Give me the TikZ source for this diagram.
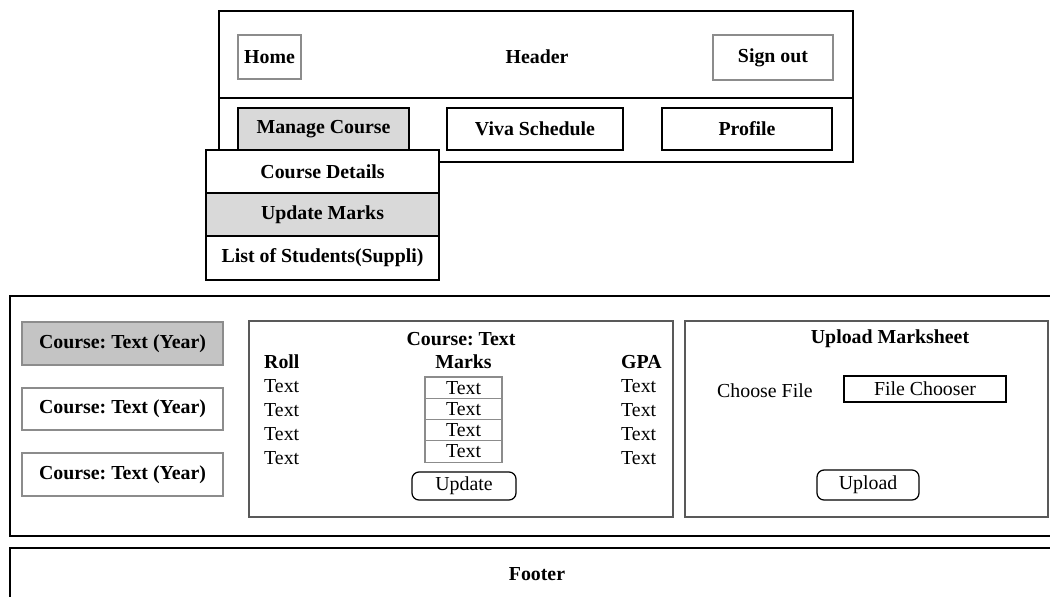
\documentclass[tikz,border=0pt]{standalone}
\usepackage{fontspec}
\setmainfont{Liberation Serif}
\usepackage{xcolor}
\usetikzlibrary{positioning}
\definecolor{wfline}{HTML}{000000}
\definecolor{wfthin}{HTML}{8c8c8c}
\definecolor{wfsel}{HTML}{d9d9d9}
\definecolor{wfsel2}{HTML}{c4c4c4}
\frenchspacing
\begin{document}
\begin{tikzpicture}[x=0.02cm,y=-0.02cm,font=\fontsize{11.3}{13}\selectfont,
 sz/.style 2 args={minimum width=#1*0.02cm,minimum height=#2*0.02cm,inner sep=0pt,outer sep=0pt},
 bx/.style={draw=wfline,line width=1.2pt,font=\fontsize{11.3}{13}\selectfont\bfseries},
 tb/.style={draw=wfthin,line width=0.6pt,font=\fontsize{11.3}{13}\selectfont\bfseries},
 pn/.style={draw=black!65,line width=0.9pt},
 btn/.style={draw=black,line width=0.7pt,rounded corners=4pt},
 ttl/.style={font=\fontsize{11.3}{13}\selectfont\bfseries}]
\clip (0,0) rectangle (1050,596);
\fill[white] (0,0) rectangle (1050,596);

\node[bx,sz={634}{151},anchor=north west](hdr) at (219,11) {};
\draw[line width=1.2pt](hdr.west|-0,98)--(hdr.east|-0,98);
\node[ttl](htitle) at (537,57) {Header};
\node[tb,sz={63}{44}](home) at (269.5,57) {Home};
\node[tb,sz={120}{45}](signout) at (773,57.5) {Sign out};
\node[bx,sz={171}{42},fill=wfsel](manage) at (323.5,129) {Manage Course};
\node[bx,sz={176}{42}](viva) at (535,129) {Viva Schedule};
\node[bx,sz={170}{42}](profile) at (747,129) {Profile};

\node[bx,sz={233}{43},fill=white](details) at (322.5,171.5) {Course Details};
\node[bx,sz={233}{43},fill=wfsel,below=0pt of details](upd) {Update Marks};
\node[bx,sz={233}{44},fill=white,below=0pt of upd](list) {List of Students(Suppli)};

\node[draw,line width=1.5pt,sz={1050}{240},anchor=north west](body) at (10,296) {};
\node[tb,sz={201}{43},fill=wfsel2](c1) at (122.5,343.5) {Course: Text (Year)};
\node[tb,sz={201}{42}](c2) at (122.5,409) {Course: Text (Year)};
\node[tb,sz={201}{43}](c3) at (122.5,474.5) {Course: Text (Year)};

\node[pn,sz={424}{196},anchor=north west](marks) at (249,321) {};
\node[ttl](mtitle) at (461,339) {Course: Text};
\node[ttl,anchor=west](roll) at (258,362) {Roll};
\node[ttl](mhead) at (463.5,362) {Marks};
\node[ttl,anchor=west](gpa) at (615,362) {GPA};
\foreach \y [count=\i] in {386,410,434,458}{
 \node[anchor=west](r\i) at (258,\y) {Text};
 \node[anchor=west](g\i) at (615,\y) {Text};
}
\foreach \y [count=\i] in {387.6,408.9,430.1,451.4}
 \node[draw=wfthin,line width=0.6pt,sz={77}{21.25}](m\i) at (463.5,\y) {Text};
\node[btn,sz={104}{28}](update) at (464,486) {Update};

\node[pn,sz={363}{196},anchor=north west](upl) at (685,321) {};
\node[ttl](utitle) at (890,339) {Upload Marksheet};
\node[anchor=west](choose) at (711,391) {Choose File};
\node[draw,line width=0.7pt,sz={162}{26}](chooser) at (925,389) {File Chooser};
\node[btn,sz={102}{30}](upload) at (868,485) {Upload};

\node[draw,line width=1.5pt,sz={1050}{80},anchor=north west](foot) at (10,548) {};
\node[ttl](ftitle) at (537,574) {Footer};
\end{tikzpicture}
\end{document}
